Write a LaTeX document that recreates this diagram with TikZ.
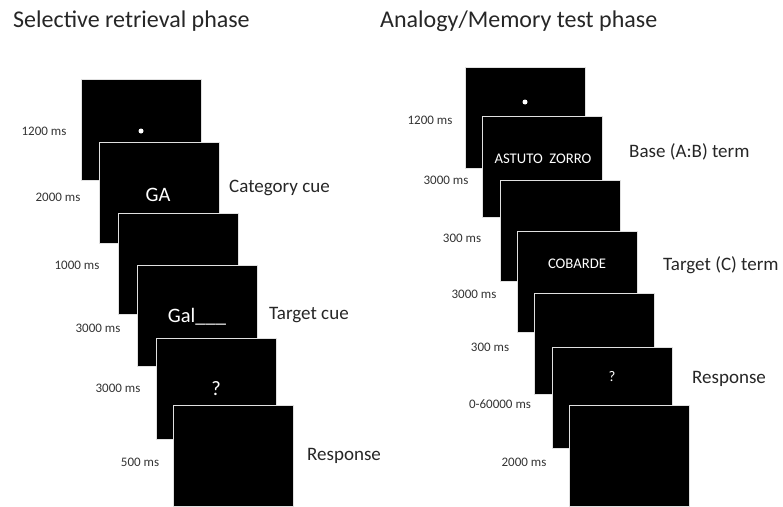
\documentclass[tikz,border=0pt]{standalone}
\usepackage{fontspec}
\setmainfont{Carlito}
\usetikzlibrary{positioning}

\begin{document}
\begin{tikzpicture}[x=1pt, y=-1pt,
        screen/.style={rectangle, draw=black!12, line width=1pt, fill=black, minimum width=120pt, minimum height=101pt, inner sep=0pt},
        bigword/.style={text=white, inner sep=0pt, font=\fontsize{20.5}{24}\selectfont},
        smallword/.style={text=white, inner sep=0pt, font=\fontsize{14.7}{17}\selectfont},
        fixdot/.style={circle, fill=white, minimum size=5pt, inner sep=0pt},
        timing/.style={text=black!80, inner sep=0pt, font=\fontsize{13}{15}\selectfont},
        cue/.style={anchor=west, text=black!85, inner sep=0pt, font=\fontsize{19}{22}\selectfont},
        heading/.style={anchor=west, text=black!85, inner sep=0pt, font=\fontsize{24}{28}\selectfont}]
    \useasboundingbox (0,0) rectangle (783,506);

    % Titles
    \node[heading] (selhead) at (13,21) {Selective retrieval phase};
    \node[heading] (anahead) at (380,21) {Analogy/Memory test phase};

    % Selective retrieval screens
    \node[screen] (l1) at (141.5,129.5) {};
    \node[fixdot] (ldot) at (141,131) {};                 % fixation
    \node[screen] (l2) at (159,192.5) {};
    \node[bigword] (ga) at (158,195) {GA};                 % category cue
    \node[screen] (l3) at (178,264) {};                    % blank
    \node[screen] (l4) at (197,315.5) {};
    \node[bigword] (gal) at (197,317) {Gal\_\_\_};         % target cue
    \node[screen] (l5) at (216,388.5) {};
    \node[bigword] (lq) at (216,389) {?};
    \node[screen] (l6) at (233,455.5) {};                  % blank

    \node[timing] (lt1) at (44,131) {1200 ms};
    \node[timing] (lt2) at (58,197) {2000 ms};
    \node[timing] (lt3) at (77,265) {1000 ms};
    \node[timing] (lt4) at (98,328) {3000 ms};
    \node[timing] (lt5) at (118,388) {3000 ms};
    \node[timing] (lt6) at (140,462) {500 ms};

    \node[cue] (catcue) at (229,188) {Category cue};
    \node[cue] (tarcue) at (269,315) {Target cue};
    \node[cue] (lresp) at (307,456) {Response};

    % Analogy / memory test screens
    \node[screen] (r1) at (525.5,118) {};
    \node[fixdot] (rdot) at (525,102) {};                 % fixation
    \node[screen] (r2) at (542.5,166.5) {};
    \node[smallword] (base) at (543,159) {ASTUTO\ \ ZORRO}; % A:B pair
    \node[screen] (r3) at (560,231) {};                    % blank
    \node[screen] (r4) at (577,282) {};
    \node[smallword] (target) at (577,264) {COBARDE};      % C term
    \node[screen] (r5) at (594.5,344) {};                  % blank
    \node[screen] (r6) at (612,397.5) {};
    \node[smallword] (rq) at (612,377) {?};
    \node[screen] (r7) at (629,456) {};                    % blank

    \node[timing] (rt1) at (430,120) {1200 ms};
    \node[timing] (rt2) at (446,180) {3000 ms};
    \node[timing] (rt3) at (462,238) {300 ms};
    \node[timing] (rt4) at (474,294) {3000 ms};
    \node[timing] (rt5) at (490,347) {300 ms};
    \node[timing] (rt6) at (500,404) {0-60000 ms};
    \node[timing] (rt7) at (524,462) {2000 ms};

    \node[cue] (basecue) at (629,152) {Base (A:B) term};
    \node[cue] (termcue) at (663,265) {Target (C) term};
    \node[cue] (rresp) at (692,379) {Response};
\end{tikzpicture}
\end{document}
